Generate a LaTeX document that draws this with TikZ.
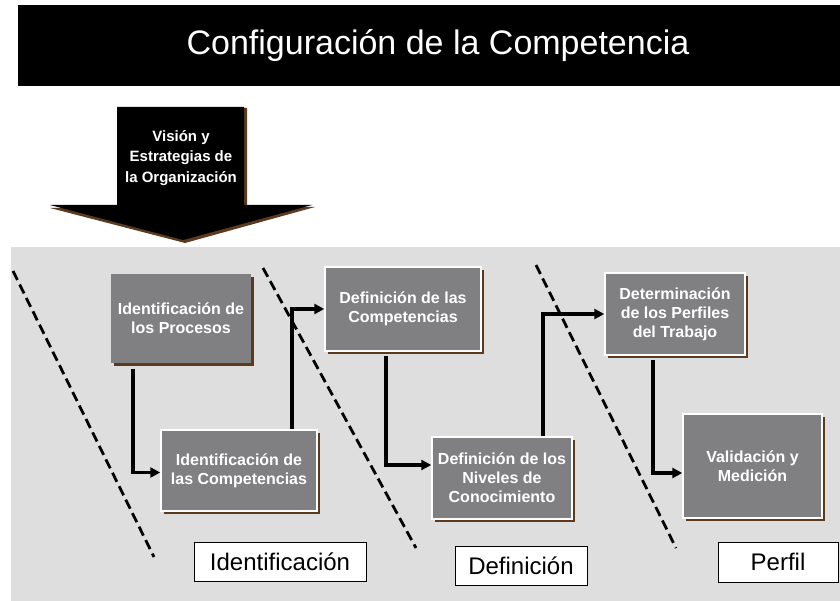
\documentclass[tikz,border=0pt]{standalone}
\usepackage{fontspec}
\setmainfont{Liberation Sans}
\usepackage{tikz}
\usepackage{xcolor}
\usetikzlibrary{arrows.meta,shadows}

\definecolor{bggray}{HTML}{DEDEDE}
\definecolor{boxgray}{HTML}{808083}
\definecolor{shadowbrown}{HTML}{5C3A1E}

\begin{document}
\begin{tikzpicture}[x=1pt, y=-1pt,
  stepbox/.style={rectangle, fill=boxgray, draw=white, line width=1.5pt,
    text=white, align=center, inner sep=2pt,
    font=\fontsize{16}{19}\selectfont\bfseries,
    drop shadow={shadow xshift=3pt, shadow yshift=-3pt, fill=shadowbrown, opacity=1}},
  stage/.style={rectangle, draw=black, fill=white, line width=0.6pt,
    font=\fontsize{24}{28}\selectfont},
  conn/.style={-{Triangle[length=10pt,width=10pt]}, line width=3.3pt, line join=miter},
  divider/.style={line width=2.8pt, dash pattern=on 10pt off 5pt}]
  \useasboundingbox (0,0) rectangle (840,601);

  % titulo
  \fill[black] (18,5) rectangle (840,86);
  \node (T) at (438,46) [text=white, font=\fontsize{34}{40}\selectfont] {Configuración de la Competencia};

  % flecha grande
  \fill[shadowbrown] (120,108) -- (247,108) -- (247,207) -- (315,207) -- (185,243) -- (50,208) -- (120,208) -- cycle;
  \fill[black] (117,107) -- (244,107) -- (244,205) -- (312,205) -- (183,240) -- (50,205) -- (117,205) -- cycle;
  \node (V) at (181,158) [text=white, align=center, font=\fontsize{15}{20.5}\selectfont\bfseries]
    {Visión y\\Estrategias de\\la Organización};

  % fondo
  \fill[bggray] (11,247) rectangle (840,601);

  % separadores
  \draw[divider] (13,271) -- (154,557);
  \draw[divider] (263,268) -- (416,548);
  \draw[divider] (536,265) -- (676,548);

  % pasos
  \node (IP) at (181,318.5) [stepbox, draw=none, minimum width=140pt, minimum height=89pt] {Identificación de\\los Procesos};
  \node (IC) at (239,470.5) [stepbox, minimum width=156pt, minimum height=81pt] {Identificación de\\las Competencias};
  \node (DC) at (403,309) [stepbox, minimum width=156pt, minimum height=84pt] {Definición de las\\Competencias};
  \node (DN) at (502,478) [stepbox, minimum width=140pt, minimum height=82pt] {Definición de los\\Niveles de\\Conocimiento};
  \node (DP) at (675,314) [stepbox, minimum width=140pt, minimum height=82pt] {Determinación\\de los Perfiles\\del Trabajo};
  \node (VM) at (752.5,466) [stepbox, minimum width=139pt, minimum height=104pt] {Validación y\\Medición};

  \draw[conn] ([xshift=-48pt, yshift=-5pt]IP.south) |- ([yshift=-2pt]IC.west);
  \draw[conn] ([xshift=53pt]IC.north) |- (DC.west);
  \draw[conn] ([xshift=-17pt, yshift=-4pt]DC.south) |- ([yshift=13pt]DN.west);
  \draw[conn] ([xshift=41pt]DN.north) |- (DP.west);
  \draw[conn] ([xshift=-22pt, yshift=-4pt]DP.south) |- ([yshift=-7pt]VM.west);

  % etapas
  \node (E1) at (280,561.5) [stage, minimum width=172pt, minimum height=39pt] {Identificación};
  \node (E2) at (521,565.5) [stage, minimum width=132pt, minimum height=39pt] {Definición};
  \node (E3) at (778,562) [stage, minimum width=120pt, minimum height=40pt] {Perfil};
\end{tikzpicture}
\end{document}
